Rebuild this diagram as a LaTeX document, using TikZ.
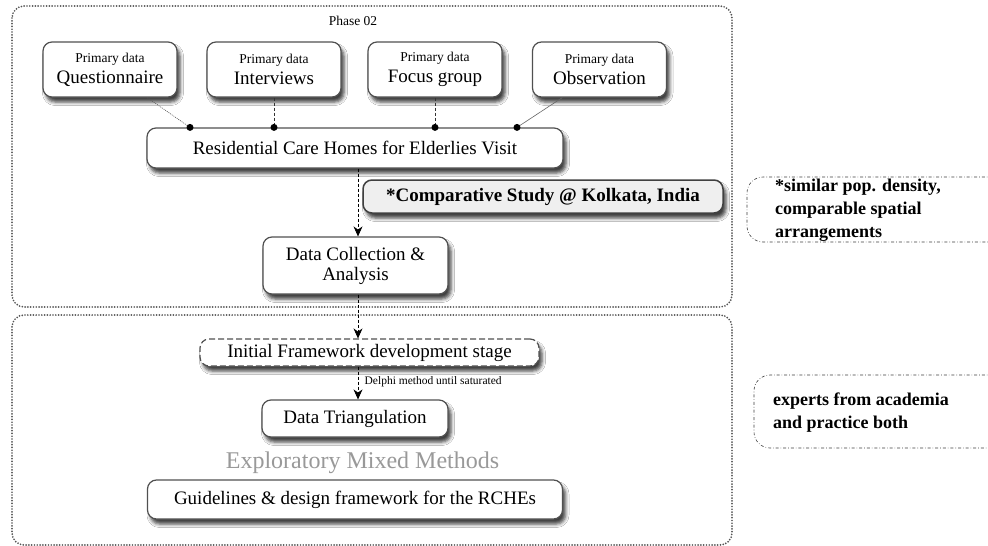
\documentclass[tikz,border=0pt]{standalone}
\usepackage{fontspec}
\setmainfont{Liberation Serif}
\usetikzlibrary{arrows.meta,shadows,shadows.blur,calc}
\definecolor{bord}{HTML}{505050}
\definecolor{emm}{HTML}{999999}
\definecolor{cmpfill}{HTML}{EFEFEF}
\definecolor{contc}{HTML}{555555}
\tikzset{
  box/.style={draw=bord, line width=1.2pt, rounded corners=9pt, fill=white, align=center, inner sep=0pt,
    blur shadow={shadow xshift=3pt, shadow yshift=-5pt, shadow blur radius=3.5pt, shadow opacity=75},
    font=\fontsize{19}{20}\selectfont},
  pbox/.style={box, minimum width=134pt, minimum height=55pt},
  container/.style={draw=contc, line width=1.9pt, line cap=round, dash pattern=on 0pt off 2.8pt, rounded corners=12pt},
  notebox/.style={draw=black!75, line width=0.6pt, dash dot, rounded corners=16pt},
  notetext/.style={anchor=west, align=left, inner sep=0pt, font=\bfseries\fontsize{18}{23}\selectfont},
  dasharrow/.style={draw=black, line width=0.7pt, dash pattern=on 3pt off 2pt, -{Stealth[length=10pt,width=9pt]}},
  vdash/.style={draw=black!80, line width=0.7pt, dash pattern=on 3pt off 2pt},
  thinline/.style={draw=black!60, line width=0.6pt},
  dotline/.style={draw=black!65, line width=0.6pt, dash pattern=on 1pt off 1pt},
  jdot/.style={circle, fill=black, inner sep=0pt, minimum size=7pt},
}
\begin{document}
\begin{tikzpicture}[x=1pt, y=-1pt]
\useasboundingbox (0,0) rectangle (988,546);
\fill[white] (0,0) rectangle (988,546);

% containers
\draw[container] (12,6) rectangle (732,307);
\draw[container] (12,315) rectangle (732,545);

\node[font=\fontsize{13.5}{15}\selectfont] (phase) at (353,21) {Phase 02};

% primary data boxes
\node[pbox] (q)  at (110,69.5) {{\fontsize{13.5}{15}\selectfont Primary data}\\[1pt]Questionnaire};
\node[pbox] (iv) at (274,69.5) {{\fontsize{13.5}{15}\selectfont Primary data}\\[1pt]Interviews};
\node[pbox] (fg) at (435,69.5) {{\fontsize{13.5}{15}\selectfont Primary data}\\[1pt]Focus group};
\node[pbox] (ob) at (599.5,69.5) {{\fontsize{13.5}{15}\selectfont Primary data}\\[1pt]Observation};

\node[box, minimum width=416pt, minimum height=40pt] (res) at (355,148) {Residential Care Homes for Elderlies Visit};

\node[box, fill=cmpfill, draw=black!75, line width=1.5pt, minimum width=360pt, minimum height=33pt,
  font=\bfseries\fontsize{19}{20}\selectfont] (cmp) at (543,196.5) {*Comparative Study @ Kolkata, India};

\node[box, minimum width=185pt, minimum height=57pt] (dc) at (355.5,265.5) {Data Collection \&\\Analysis};

\node[box, dash pattern=on 6pt off 3pt, minimum width=339pt, minimum height=27pt] (ifd) at (369.5,352.5) {Initial Framework development stage};

\node[box, minimum width=186pt, minimum height=37pt] (dt) at (355,418.5) {Data Triangulation};

\node[text=emm, font=\fontsize{24}{26}\selectfont] (emm) at (362.5,463) {Exploratory Mixed Methods};

\node[box, minimum width=415pt, minimum height=39pt] (gd) at (355,499.5) {Guidelines \& design framework for the RCHEs};

% junction dots
\coordinate (j1) at ($(res.north)+(-165,0)$);
\coordinate (j2) at (iv.south |- res.north);
\coordinate (j3) at (fg.south |- res.north);
\coordinate (j4) at ($(res.north)+(162,0)$);
\draw[dotline] ($(q.south)!0.55!(q.south east)$) -- (j1);
\draw[vdash] (iv.south) -- (j2);
\draw[vdash] (fg.south) -- (j3);
\draw[thinline] ($(ob.south west)!0.45!(ob.south)$) -- (j4);
\foreach \j in {j1,j2,j3,j4} \node[jdot] at (\j) {};

% vertical flow
\coordinate (ax) at (358,0);
\draw[dasharrow] (res.south -| ax) -- (dc.north -| ax);
\draw[dasharrow] (dc.south -| ax) -- (ifd.north -| ax);
\draw[dasharrow] (ifd.south -| ax) -- (dt.north -| ax)
  node[pos=0.45, right=3pt, text=black, font=\fontsize{11.5}{12}\selectfont] (delphi) {Delphi method until saturated};

% side notes
\draw[notebox] (1000,177) -- (747,177) -- (747,242) -- (1000,242);
\node[notetext] (n1) at (775,210) {*similar pop. density,\\comparable spatial\\arrangements};
\draw[notebox] (1000,375) -- (754,375) -- (754,448) -- (1000,448);
\node[notetext] (n2) at (773,413) {experts from academia\\and practice both};
\end{tikzpicture}
\end{document}
